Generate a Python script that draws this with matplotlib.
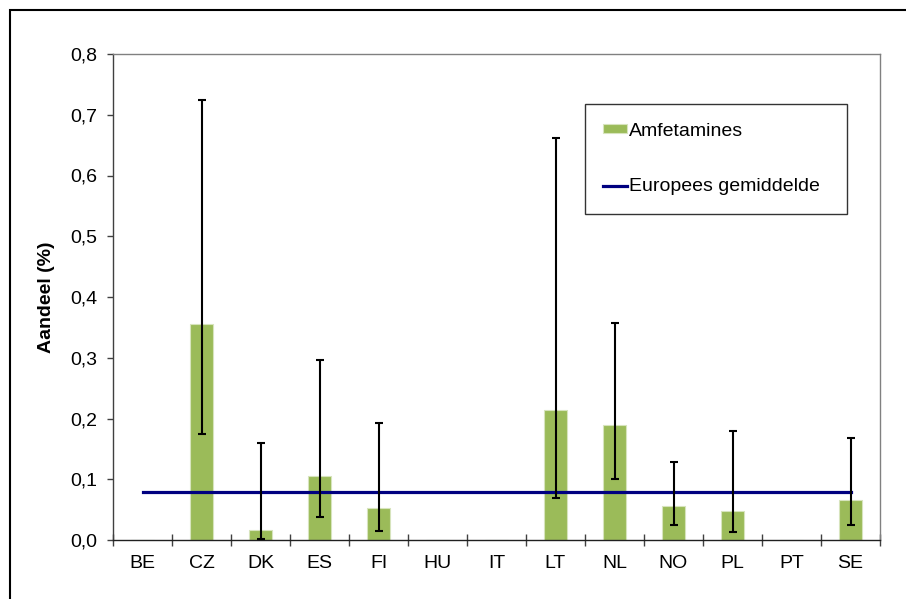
import numpy as np
import matplotlib.pyplot as plt
from matplotlib.patches import Rectangle

plt.rcParams['font.family'] = ['Liberation Sans', 'DejaVu Sans']

# data
landen = ['BE', 'CZ', 'DK', 'ES', 'FI', 'HU', 'IT', 'LT', 'NL', 'NO', 'PL', 'PT', 'SE']
amfetamines = [0.0, 0.356, 0.017, 0.106, 0.053, 0.0, 0.0, 0.214, 0.189, 0.056, 0.048, 0.0, 0.066]
ondergrens = [0.0, 0.175, 0.002, 0.038, 0.015, 0.0, 0.0, 0.069, 0.100, 0.024, 0.013, 0.0, 0.025]
bovengrens = [0.0, 0.724, 0.159, 0.296, 0.192, 0.0, 0.0, 0.662, 0.357, 0.129, 0.180, 0.0, 0.168]
heeft_fout = [False, True, True, True, True, False, False, True, True, True, True, False, True]
eu_gemiddelde = 0.079
yticks = [0.0, 0.1, 0.2, 0.3, 0.4, 0.5, 0.6, 0.7, 0.8]

fig = plt.figure(figsize=(9.06, 5.99), dpi=100)
ax = fig.add_axes([113 / 906, 1 - 540 / 599, 767 / 906, 486 / 599])

x = np.arange(len(landen))
staven = ax.bar(x, amfetamines, width=0.4, color='#9BBB59', edgecolor='#D7E4BD',
                linewidth=0.8, label='Amfetamines', zorder=2)

waarden = np.array(amfetamines)
idx = np.array(heeft_fout)
yerr = [waarden[idx] - np.array(ondergrens)[idx], np.array(bovengrens)[idx] - waarden[idx]]
ax.errorbar(x[idx], waarden[idx], yerr=yerr, fmt='none', ecolor='black',
            elinewidth=1.5, capsize=3, capthick=1.5, zorder=4)

lijn, = ax.plot(x, [eu_gemiddelde] * len(x), color='#000080', linewidth=2.3,
                label='Europees gemiddelde', zorder=3)

ax.set_xlim(-0.5, len(landen) - 0.5)
ax.set_ylim(0, 0.8)
ax.set_yticks(yticks)
ax.set_yticklabels([f'{v:.1f}'.replace('.', ',') for v in yticks], fontsize=14)
ax.set_xticks(x)
ax.set_xticklabels(landen, fontsize=14)
ax.set_xticks(np.arange(-0.5, len(landen)), minor=True)
ax.tick_params(axis='x', which='major', length=0, pad=11)
ax.tick_params(axis='x', which='minor', direction='inout', length=8, width=1, color='#404040')
ax.tick_params(axis='y', direction='out', length=4.5, width=1, color='#404040', pad=7)

ax.spines['left'].set_color('#404040')
ax.spines['bottom'].set_color('#202020')
ax.spines['top'].set_color('#808080')
ax.spines['right'].set_color('#808080')
for s in ax.spines.values():
    s.set_linewidth(1)

ax.set_ylabel('Aandeel (%)', fontsize=14, fontweight='bold', labelpad=11)

leg = ax.legend([staven, lijn], ['Amfetamines', 'Europees gemiddelde'],
                loc='upper left', bbox_to_anchor=(0.615, 0.897, 0.342, 0.0), mode='expand',
                frameon=True, fancybox=False, edgecolor='black', fontsize=14,
                handlelength=1.25, handleheight=0.35, handletextpad=0.1,
                labelspacing=2.0, borderpad=0.95, borderaxespad=0)
leg.get_frame().set_linewidth(1)

# outer chart frame
fig.patches.append(Rectangle((9.5 / 906, -0.2), 1.2, 1 - 10.5 / 599 + 0.2,
                             transform=fig.transFigure, fill=False,
                             edgecolor='black', linewidth=1.5))

fig.savefig('out.png', dpi=100)
